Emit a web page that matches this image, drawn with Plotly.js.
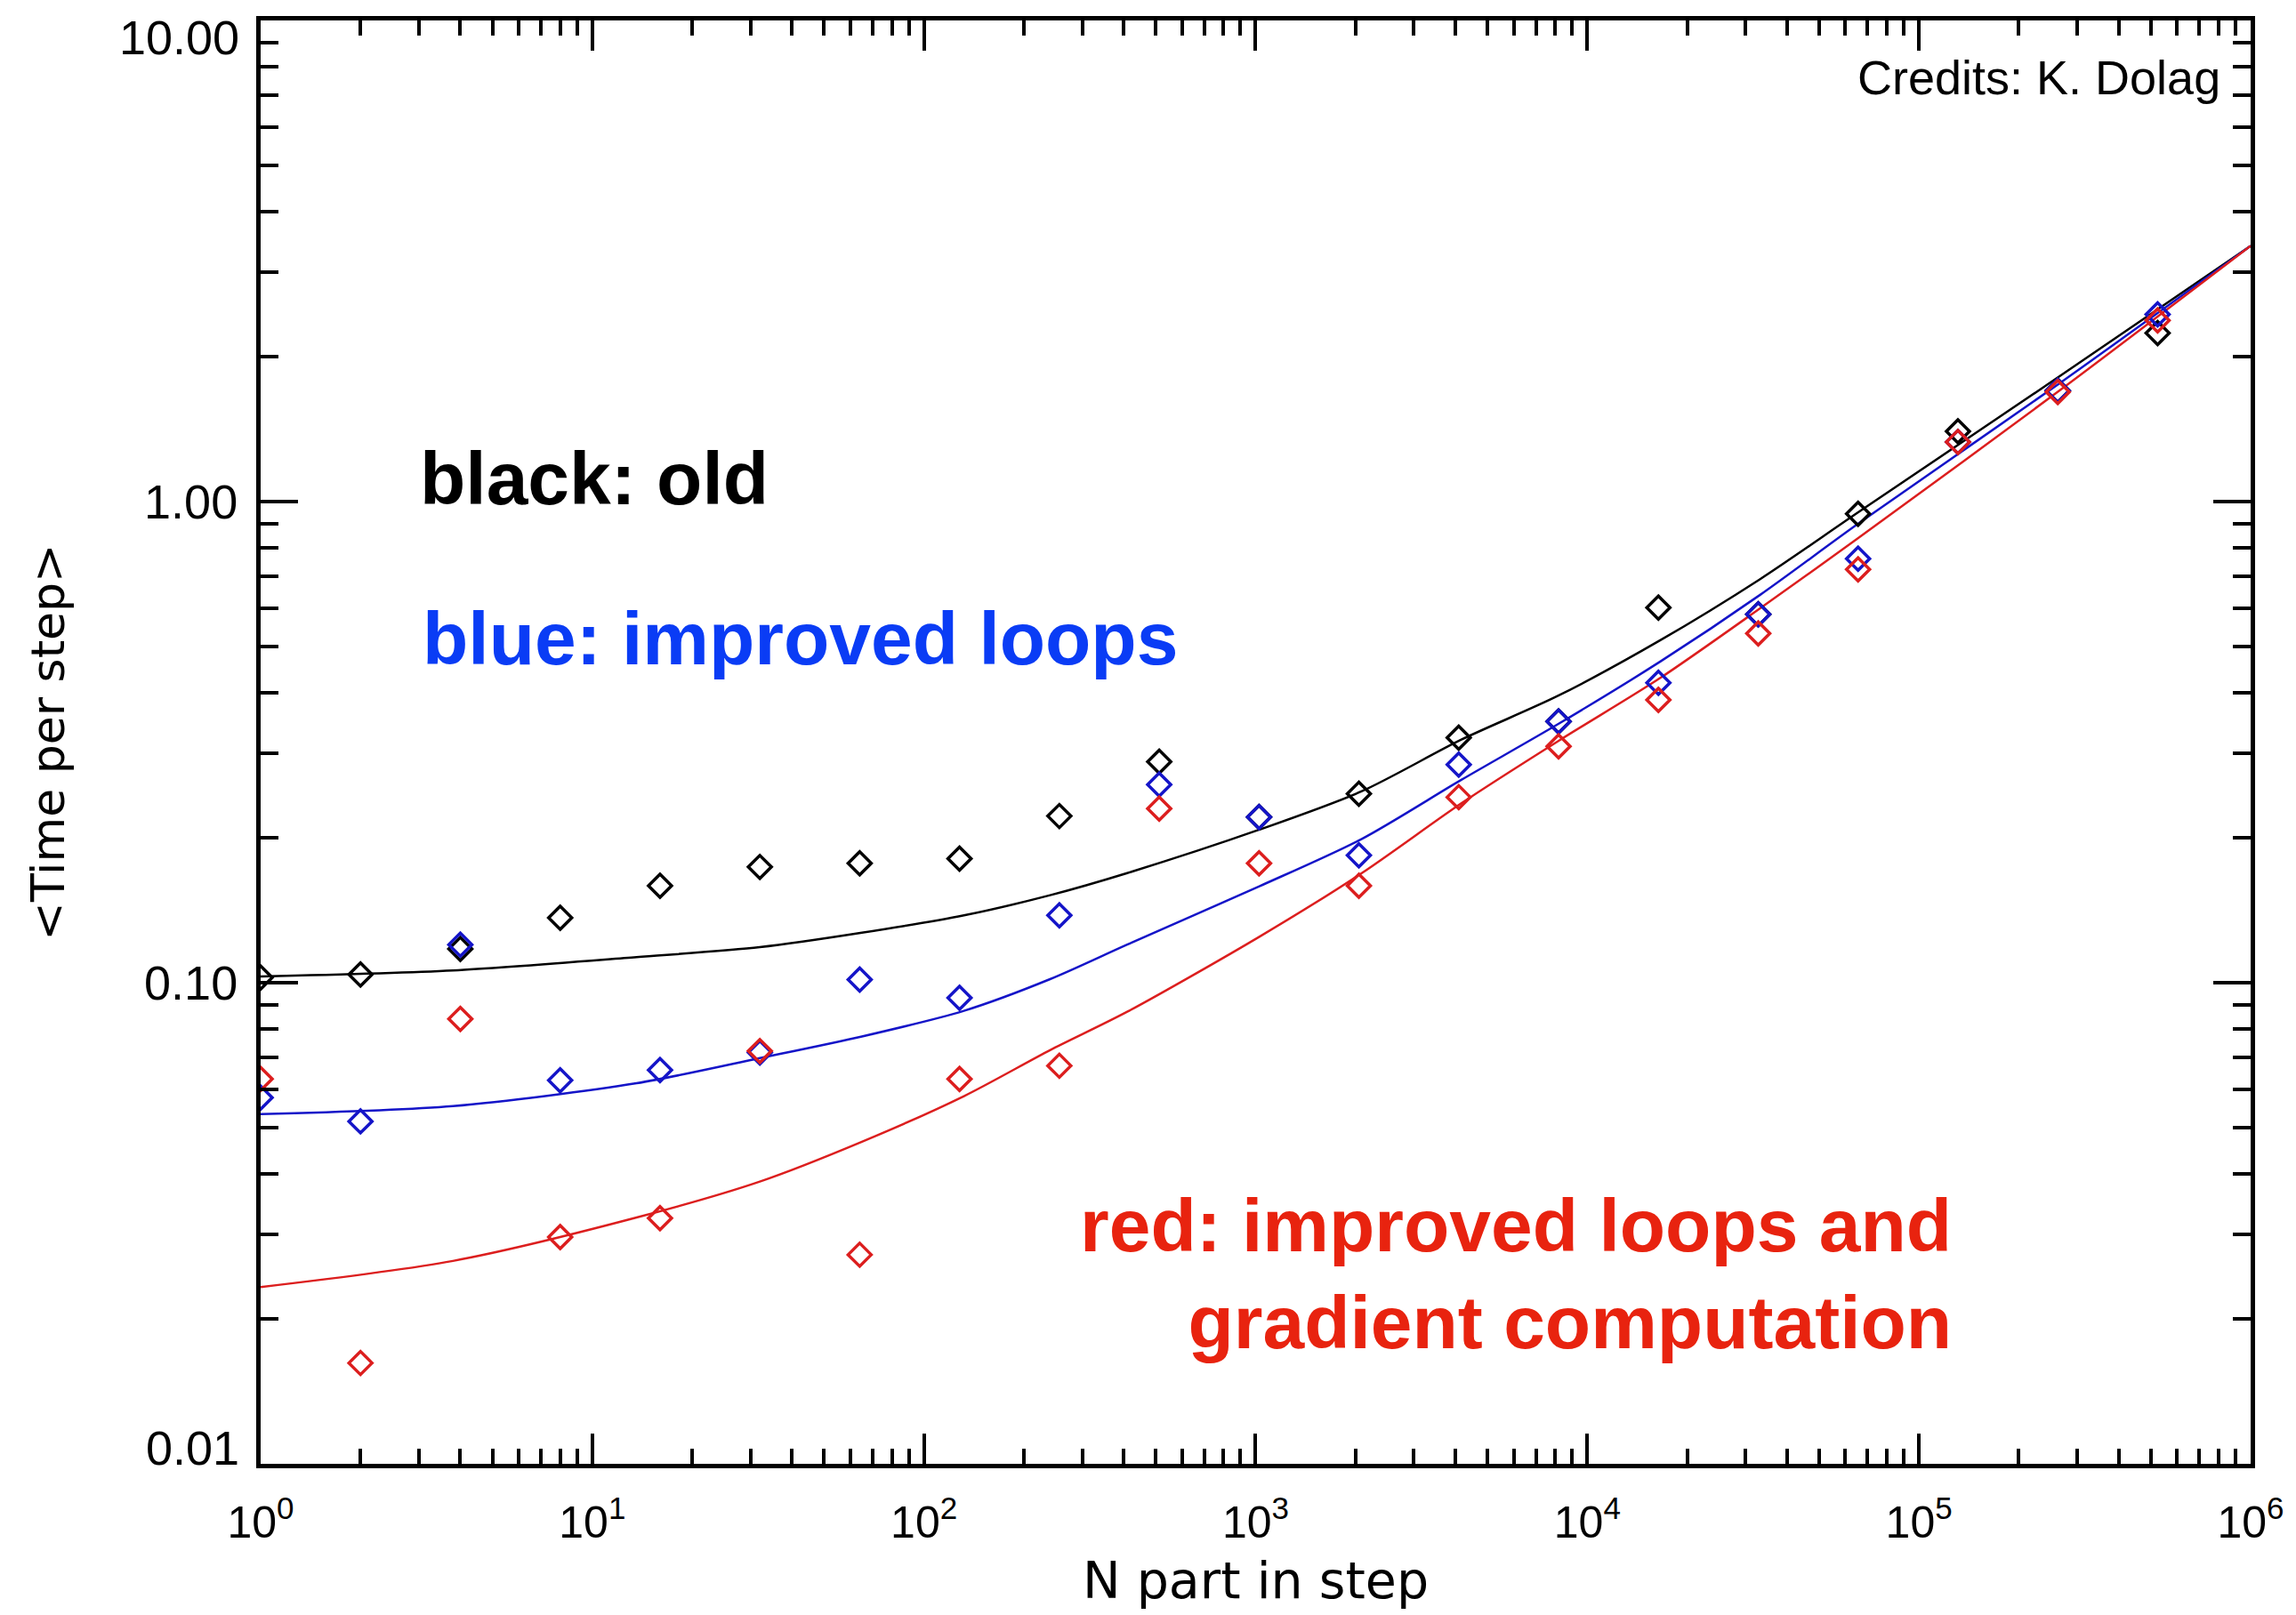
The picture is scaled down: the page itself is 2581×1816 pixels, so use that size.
<!DOCTYPE html>
<html>
<head>
<meta charset="utf-8">
<script src="https://cdn.plot.ly/plotly-3.0.1.min.js"></script>
<style>html,body{margin:0;padding:0;background:#fff;}#chart{width:2581px;height:1816px;}</style>
</head>
<body>
<div id="chart"></div>
<script>
// Measured points (N particles per step vs. time per step)
const nPart = [1,2,4,8,16,32,64,128,256,512,1024,2048,4096,8192,16384,32768,65536,131072,262144,524288];
const timeOld = [0.1025,0.104,0.1175,0.1364,0.159,0.174,0.177,0.181,0.222,0.288,0.221,0.247,0.323,0.349,0.602,0.583,0.943,1.40,1.70,2.24];
const timeLoops = [0.0577,0.0515,0.120,0.0627,0.0658,0.0716,0.1015,0.093,0.138,0.258,0.221,0.184,0.284,0.349,0.420,0.583,0.761,1.33,1.70,2.45];
const timeLoopsGrad = [0.0631,0.0162,0.0841,0.0296,0.0324,0.0721,0.0272,0.0631,0.0672,0.230,0.177,0.159,0.243,0.310,0.387,0.532,0.723,1.33,1.69,2.38];

// Fitted curves
const fitN = [1,3.8,13.6,32,65,132,240,410,1026,2090,4170,8180,16600,33200,65600,265000,1000000];
const fitOld = [0.103,0.106,0.113,0.1185,0.127,0.138,0.152,0.169,0.208,0.25,0.32,0.395,0.515,0.69,0.95,1.82,3.40];
const fitLoops = [0.0533,0.0554,0.0618,0.0697,0.0773,0.0874,0.1017,0.120,0.1586,0.199,0.264,0.345,0.465,0.64,0.90,1.76,3.40];
const fitLoopsGrad = [0.0233,0.0264,0.0325,0.0386,0.0467,0.0581,0.0724,0.087,0.1246,0.169,0.236,0.318,0.43,0.60,0.84,1.70,3.40];

// Tick labels
const xTickVals = [1,10,100,1000,10000,100000,1000000];
const xTickText = ['10<sup>0</sup>','10<sup>1</sup>','10<sup>2</sup>','10<sup>3</sup>','10<sup>4</sup>','10<sup>5</sup>','10<sup>6</sup>'];
const yTickVals = [0.01,0.1,1,10];
const yTickText = ['0.01','0.10','1.00','10.00'];

const cBlack = '#000000', cBlue = '#1414c8', cRed = '#dc1e1e';

function pts(y, c){
  return {x: nPart, y: y, mode: 'markers', type: 'scatter', showlegend: false,
    marker: {symbol: 'diamond-open', size: 20, color: c, line: {color: c, width: 3.5}}};
}
function fit(y, c){
  return {x: fitN, y: y, mode: 'lines', type: 'scatter', showlegend: false,
    line: {color: c, width: 2.5, shape: 'spline', smoothing: 0.8}};
}

const data = [
  fit(fitOld, cBlack), fit(fitLoops, cBlue), fit(fitLoopsGrad, cRed),
  pts(timeOld, cBlack), pts(timeLoops, cBlue), pts(timeLoopsGrad, cRed)
];

const axisFont = {family: 'Liberation Sans, Arial, sans-serif', color: '#000'};
// End labels of the y axis are nudged inward (as in the original), inner labels stay on the axis
const yInnerText = yTickText.map((t, i) => (i === 0 || i === yTickText.length - 1) ? '' : t);

const layout = {
  width: 2581, height: 1816,
  margin: {l: 293, r: 51, t: 23, b: 170},
  paper_bgcolor: '#fff', plot_bgcolor: '#fff',
  xaxis: {
    type: 'log', range: [0, 6.00005], tickvals: xTickVals, ticktext: xTickText,
    ticks: 'inside', ticklen: 34, tickwidth: 4, tickcolor: '#000',
    mirror: 'ticks', showline: true, linewidth: 5, linecolor: '#000',
    showgrid: false, zeroline: false, ticklabelstandoff: 18, ticklabeloverflow: 'allow',
    minor: {dtick: 'D1', ticks: 'inside', ticklen: 17, tickwidth: 4, tickcolor: '#000', showgrid: false},
    tickfont: Object.assign({size: 50}, axisFont),
    title: {text: 'N part in step', font: {family: 'DejaVu Sans, sans-serif', color: '#000', size: 57}, standoff: 20}
  },
  yaxis: {
    type: 'log', range: [-2.00005, 1.00005], tickvals: yTickVals, ticktext: yInnerText,
    ticks: 'inside', ticklen: 42, tickwidth: 4, tickcolor: '#000',
    mirror: 'ticks', showline: true, linewidth: 5, linecolor: '#000',
    showgrid: false, zeroline: false, ticklabelstandoff: 10, ticklabeloverflow: 'allow',
    minor: {dtick: 'D1', ticks: 'inside', ticklen: 20, tickwidth: 4, tickcolor: '#000', showgrid: false},
    tickfont: Object.assign({size: 54}, axisFont),
    title: {text: '&lt;Time per step&gt;', font: {family: 'DejaVu Sans, sans-serif', color: '#000', size: 52}, standoff: 74}
  },
  annotations: [
    {xref: 'paper', yref: 'paper', x: -0.0100, y: 0.9883, xanchor: 'right', yanchor: 'middle', showarrow: false,
     text: yTickText[yTickText.length - 1], font: Object.assign({size: 54}, axisFont)},
    {xref: 'paper', yref: 'paper', x: -0.0100, y: 0.0111, xanchor: 'right', yanchor: 'middle', showarrow: false,
     text: yTickText[0], font: Object.assign({size: 54}, axisFont)},
    {xref: 'paper', yref: 'paper', x: 0.079, y: 0.6827, xanchor: 'left', yanchor: 'middle', showarrow: false,
     text: '<b>black: old</b>', font: {family: 'Liberation Sans, Arial, sans-serif', size: 84, color: '#000'}},
    {xref: 'paper', yref: 'paper', x: 0.0805, y: 0.5718, xanchor: 'left', yanchor: 'middle', showarrow: false,
     text: '<b>blue: improved loops</b>', font: {family: 'Liberation Sans, Arial, sans-serif', size: 84, color: '#0a3cf5'}},
    {xref: 'paper', yref: 'paper', x: 0.8505, y: 0.1315, xanchor: 'right', yanchor: 'middle', align: 'right', showarrow: false,
     text: '<b>red: improved loops and</b><br><b>gradient computation</b>', font: {family: 'Liberation Sans, Arial, sans-serif', size: 84, color: '#e8230f'}},
    {xref: 'paper', yref: 'paper', x: 0.9858, y: 0.9606, xanchor: 'right', yanchor: 'middle', showarrow: false,
     text: 'Credits: K. Dolag', font: {family: 'Liberation Sans, Arial, sans-serif', size: 54, color: '#000'}}
  ]
};

Plotly.newPlot('chart', data, layout, {staticPlot: true});
</script>
</body>
</html>
